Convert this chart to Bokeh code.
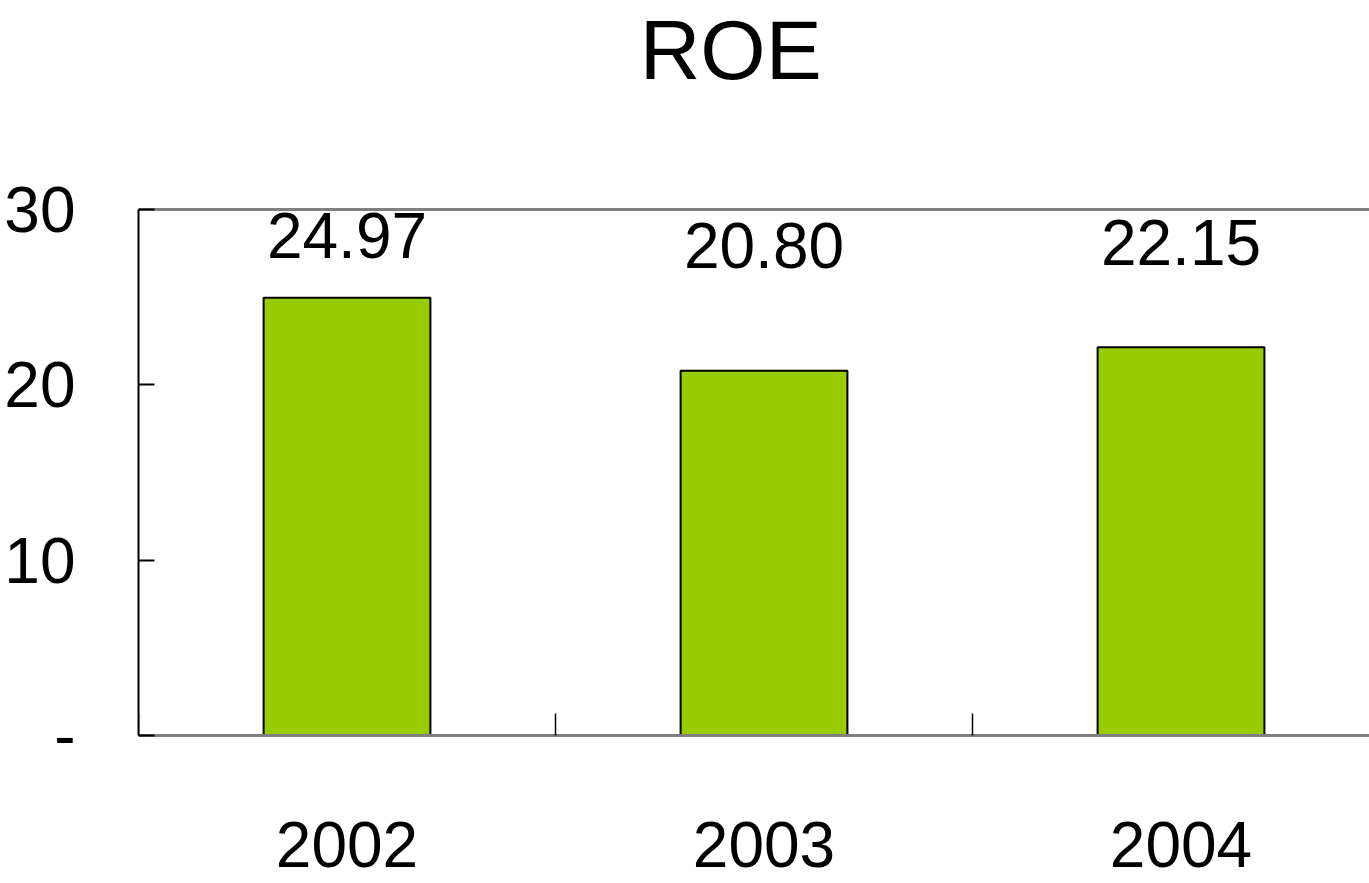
from bokeh.plotting import figure
from bokeh.models import Range1d, FixedTicker, ColumnDataSource, Span
from bokeh.core.properties import value
from bokeh.embed import file_html
from bokeh.resources import INLINE

# ---- data ----
title_text = "ROE"
years = ["2002", "2003", "2004"]
roe = [24.97, 20.80, 22.15]
roe_labels = ["24.97", "20.80", "22.15"]
y_ticks = [0, 10, 20, 30]
y_tick_labels = ["-", "10", "20", "30"]

FONT = "Liberation Sans"
idx = list(range(len(years)))
label_y = [25.10 + 0.137 * v for v in roe]

src = ColumnDataSource(dict(x=idx, top=roe, lab=roe_labels, ly=label_y))

# frame spans the full figure height; value axis drawn only between 0 and 30
p = figure(width=1369, height=883,
           x_range=Range1d(-0.5, 2.452), y_range=Range1d(-8.441, 41.921),
           output_backend="svg", toolbar_location=None,
           min_border_left=138, min_border_right=0,
           min_border_top=0, min_border_bottom=0)
p.title.visible = False

p.background_fill_color = "white"
p.border_fill_color = "white"
p.outline_line_color = None
p.xgrid.grid_line_color = None
p.ygrid.grid_line_color = None

# top border of the plot area
p.add_layout(Span(location=y_ticks[-1], dimension="width", line_color="#808080",
                  line_width=3, level="underlay"))

p.vbar(x="x", top="top", width=0.4, bottom=0, source=src,
       fill_color="#99CC00", line_color="black", line_width=2)

# value labels
p.text(x="x", y="ly", text="lab", source=src,
       text_font=value(FONT), text_font_size="64px", text_color="black",
       text_align="center", text_baseline="middle")

# chart title
p.text(x=[0.92], y=[39.1], text=[title_text],
       text_font=value(FONT), text_font_size="84px", text_color="black",
       text_align="center", text_baseline="middle")

# y axis
ya = p.yaxis[0]
ya.bounds = (y_ticks[0], y_ticks[-1])
ya.ticker = FixedTicker(ticks=y_ticks, minor_ticks=[])
ya.major_label_overrides = {t: l for t, l in zip(y_ticks, y_tick_labels)}
ya.major_tick_in = 16
ya.major_tick_out = 0
ya.major_tick_line_color = "black"
ya.major_tick_line_width = 2
ya.minor_tick_line_color = None
ya.axis_line_color = "black"
ya.axis_line_width = 2
ya.major_label_text_font = FONT
ya.major_label_text_font_size = "64px"
ya.major_label_text_color = "black"
ya.major_label_standoff = 63

# x axis at value 0
xa = p.xaxis[0]
xa.fixed_location = 0
xa.ticker = FixedTicker(ticks=idx, minor_ticks=[i - 0.5 for i in idx] + [len(idx) - 0.5])
xa.major_label_overrides = {i: y for i, y in zip(idx, years)}
xa.major_tick_in = 0
xa.major_tick_out = 0
xa.minor_tick_in = 22
xa.minor_tick_out = 0
xa.minor_tick_line_color = "black"
xa.minor_tick_line_width = 1.5
xa.axis_line_color = "#808080"
xa.axis_line_width = 3
xa.major_label_text_font = FONT
xa.major_label_text_font_size = "64px"
xa.major_label_text_color = "black"
xa.major_label_standoff = 86

open("out.html", "w").write(file_html(p, INLINE))
